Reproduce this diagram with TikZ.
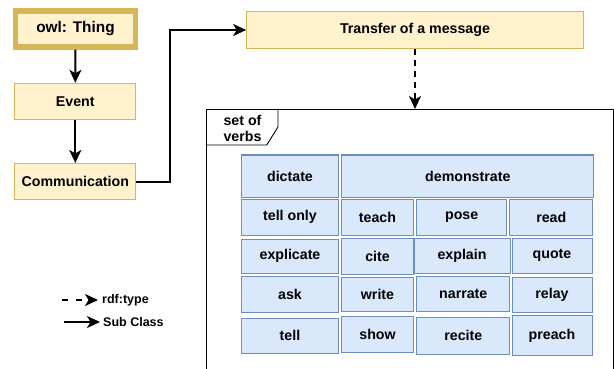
\documentclass[tikz,border=0pt]{standalone}
\usepackage{fontspec}
\setmainfont{Liberation Sans}
\usetikzlibrary{arrows.meta}
\definecolor{yfill}{HTML}{FFF2CC}
\definecolor{ydraw}{HTML}{D6B656}
\definecolor{bfill}{HTML}{DAE8FC}
\definecolor{bdraw}{HTML}{6C8EBF}
\begin{document}
\begin{tikzpicture}[x=1pt,y=-1pt,
  every node/.style={font=\fontsize{14.2}{16}\selectfont\bfseries, inner sep=0pt},
  ybox/.style={draw=ydraw, fill=yfill, line width=1pt, rectangle},
  vb/.style={draw=bdraw, fill=bfill, line width=1pt, rectangle},
  arr/.style={line width=2pt, -{Stealth[length=13pt,width=12pt,inset=3.5pt]}},
  darr/.style={arr, dash pattern=on 6pt off 5pt},
  legtxt/.style={font=\fontsize{12.5}{14}\selectfont\bfseries, anchor=west}
]
\useasboundingbox (0,0) rectangle (614,369);
% left chain
\node[ybox, line width=5.5pt, minimum width=120pt, minimum height=36pt, font=\fontsize{15.4}{18}\selectfont\bfseries] (owl) at (75.5,29) {owl: Thing};
\node[ybox, minimum width=120.7pt, minimum height=36pt] (event) at (75.3,101.3) {Event};
\node[ybox, minimum width=120.7pt, minimum height=36pt] (comm) at (75.3,181.5) {Communication};
\node[ybox, minimum width=336.7pt, minimum height=36.7pt] (transfer) at (415,30) {Transfer of a message};
\draw[arr] (owl.south) -- (event.north);
\draw[arr] (event.south) -- (comm.north);
\coordinate (bend) at (170,181.5);
\draw[arr] (comm.east) -- (bend) |- (transfer.west);
% container
\draw[line width=0.9pt] (206,380) -- (206,109) -- (613,109) -- (613,380);
\draw[line width=0.9pt] (206,145) -- (266.7,145) -- (278,127) -- (278,109);
\node[align=center, font=\fontsize{14.2}{16}\selectfont\bfseries] (tab) at (242.5,128.5) {set of\\verbs};
\coordinate (settop) at (415,109);
\draw[darr] (transfer.south) -- (settop);
% verbs
\node[vb, minimum width=96.6pt, minimum height=42pt] (v1) at (290,176) {dictate};
\node[vb, minimum width=252.3pt, minimum height=42pt] (v2) at (467.8,176) {demonstrate};
\node[vb, minimum width=96.6pt, minimum height=36pt] (v3) at (290,217.3) {tell only};
\node[vb, minimum width=71.6pt, minimum height=36pt] (v4) at (377.5,217.3) {teach};
\node[vb, minimum width=90pt, minimum height=36pt] (v5) at (461.7,217.3) {pose};
\node[vb, minimum width=82.7pt, minimum height=36pt] (v6) at (551.3,217.3) {read};
\node[vb, minimum width=96.6pt, minimum height=34pt] (v7) at (290,256) {explicate};
\node[vb, minimum width=71.6pt, minimum height=36pt] (v8) at (377.5,256) {cite};
\node[vb, minimum width=96pt, minimum height=35pt] (v9) at (462,255.5) {explain};
\node[vb, minimum width=80pt, minimum height=35pt] (v10) at (552,255.5) {quote};
\node[vb, minimum width=96.6pt, minimum height=36.3pt] (v11) at (290,294.8) {ask};
\node[vb, minimum width=71.6pt, minimum height=34.3pt] (v12) at (377.5,294.8) {write};
\node[vb, minimum width=93.3pt, minimum height=35.3pt] (v13) at (463.3,294.3) {narrate};
\node[vb, minimum width=80pt, minimum height=35pt] (v14) at (552,294.5) {relay};
\node[vb, minimum width=96.6pt, minimum height=35pt] (v15) at (290,335.5) {tell};
\node[vb, minimum width=71.6pt, minimum height=36pt] (v16) at (377.5,334.7) {show};
\node[vb, minimum width=93.3pt, minimum height=37pt] (v17) at (463.3,335.5) {recite};
\node[vb, minimum width=80pt, minimum height=40pt] (v18) at (552,335.7) {preach};
% legend
\coordinate (l1a) at (62,300);
\coordinate (l1b) at (98,300);
\coordinate (l2a) at (64,322);
\coordinate (l2b) at (100,322);
\draw[arr, line width=2pt, dash pattern=on 6pt off 8pt] (l1a) -- (l1b);
\draw[arr] (l2a) -- (l2b);
\node[legtxt] (lt1) at (102,300) {rdf:type};
\node[legtxt] (lt2) at (103,322) {Sub Class};
\end{tikzpicture}
\end{document}
